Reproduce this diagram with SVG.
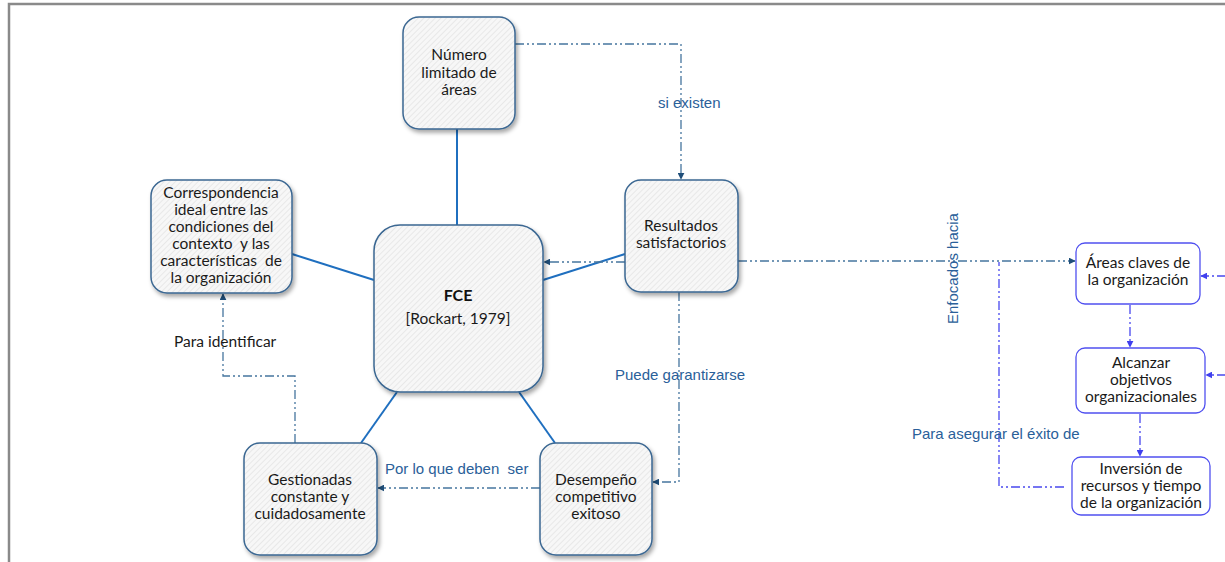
<svg xmlns="http://www.w3.org/2000/svg" width="1225" height="562" viewBox="0 0 1225 562">
  <defs>
    <pattern id="hatch" patternUnits="userSpaceOnUse" width="4" height="4" patternTransform="rotate(45)">
      <rect width="4" height="4" fill="#f7f7f7"/>
      <line x1="0" y1="0" x2="0" y2="4" stroke="#e0e0e0" stroke-width="1.3"/>
    </pattern>
    <filter id="shadow" x="-10%" y="-10%" width="125%" height="125%">
      <feDropShadow dx="2" dy="3" stdDeviation="2" flood-color="#000" flood-opacity="0.35"/>
    </filter>
    <marker id="arrDark" viewBox="0 0 10 10" refX="9" refY="5" markerWidth="7" markerHeight="7" orient="auto-start-reverse" markerUnits="userSpaceOnUse">
      <path d="M0,0 L10,5 L0,10 z" fill="#1f4e79"/>
    </marker>
    <marker id="arrBlue" viewBox="0 0 10 10" refX="9" refY="5" markerWidth="7" markerHeight="7" orient="auto-start-reverse" markerUnits="userSpaceOnUse">
      <path d="M0,0 L10,5 L0,10 z" fill="#4040ee"/>
    </marker>
  </defs>
  <style>
    .frame { fill: none; stroke: #8a8a8a; stroke-width: 2.5; }
    .hnode { fill: url(#hatch); stroke: #3b6792; stroke-width: 1.5; filter: url(#shadow); }
    .bnode { fill: #ffffff; stroke: #5050f0; stroke-width: 1.3; }
    .ntext { font-family: Lato, "Liberation Sans", sans-serif; font-size: 15.5px; fill: #1a1a1a; text-anchor: middle; }
    .ntitle { font-family: Lato, "Liberation Sans", sans-serif; font-size: 16px; font-weight: bold; fill: #111; text-anchor: middle; }
    .label { font-family: "Liberation Sans", Arial, sans-serif; font-size: 15px; fill: #2a6099; }
    .labelDark { font-family: Lato, "Liberation Sans", sans-serif; font-size: 15.5px; fill: #1a1a1a; }
    .solid { fill: none; stroke: #1f6fbf; stroke-width: 2; }
    .dd { fill: none; stroke: #46759e; stroke-width: 1.3; stroke-dasharray: 9 3 2 3 2 3; }
    .ddBlue { fill: none; stroke: #4848ee; stroke-width: 1.3; stroke-dasharray: 9 3 2 3 2 3; }
  </style>

  <rect width="1225" height="562" fill="#ffffff"/>
  <!-- outer frame (top and left edges) -->
  <path class="frame" d="M9,562 L9,4 L1225,4"/>

  <!-- connectors -->
  <g id="connectors">
    <!-- solid spokes around FCE -->
    <line class="solid" x1="457" y1="129" x2="457" y2="225"/>
    <line class="solid" x1="292" y1="254" x2="374" y2="280"/>
    <line class="solid" x1="625" y1="254" x2="543" y2="280"/>
    <line class="solid" x1="397" y1="392" x2="361" y2="443"/>
    <line class="solid" x1="519" y1="392" x2="555" y2="443"/>

    <!-- dash-dot arrows -->
    <path class="dd" d="M515,44 L681,44 L681,179" marker-end="url(#arrDark)"/>
    <path class="dd" d="M625,262 L544,262" marker-end="url(#arrDark)"/>
    <path class="dd" d="M738,261 L1075,261" marker-end="url(#arrDark)"/>
    <path class="dd" d="M679,292 L679,482 L653,482" marker-end="url(#arrDark)"/>
    <path class="dd" d="M540,488 L378,488" marker-end="url(#arrDark)"/>
    <path class="dd" d="M295,443 L295,376 L223,376 L223,294" marker-end="url(#arrDark)"/>

    <!-- blue dash-dot connectors on the right -->
    <path class="ddBlue" d="M1064,487 L999,487 L999,262"/>
    <path class="ddBlue" d="M1130,305 L1130,347" marker-end="url(#arrBlue)"/>
    <path class="ddBlue" d="M1140,414 L1140,456" marker-end="url(#arrBlue)"/>
    <path class="ddBlue" d="M1226,276 L1201,276" marker-end="url(#arrBlue)"/>
    <path class="ddBlue" d="M1226,375 L1206,375" marker-end="url(#arrBlue)"/>

    <!-- connector labels -->
    <text class="label" x="658" y="108">si existen</text>
    <text class="label" transform="translate(958,324) rotate(-90)">Enfocados hacia</text>
    <text class="label" x="615" y="380">Puede garantizarse</text>
    <text class="label" x="912" y="439">Para asegurar el éxito de</text>
    <text class="label" x="385" y="474" xml:space="preserve">Por lo que deben  ser</text>
    <text class="labelDark" x="174" y="347">Para identificar</text>
  </g>

  <g id="node-numero">
    <rect class="hnode" x="403" y="17" width="112" height="112" rx="16"/>
    <text class="ntext" x="459" y="60">Número</text>
    <text class="ntext" x="459" y="78">limitado de</text>
    <text class="ntext" x="459" y="95">áreas</text>
  </g>

  <g id="node-resultados">
    <rect class="hnode" x="625" y="180" width="113" height="112" rx="16"/>
    <text class="ntext" x="681" y="231">Resultados</text>
    <text class="ntext" x="681" y="248">satisfactorios</text>
  </g>

  <g id="node-fce">
    <rect class="hnode" x="374" y="225" width="169" height="167" rx="26"/>
    <text class="ntitle" x="458" y="301">FCE</text>
    <text class="ntext" x="458" y="324">[Rockart, 1979]</text>
  </g>

  <g id="node-correspondencia">
    <rect class="hnode" x="151" y="180" width="141" height="113" rx="16"/>
    <text class="ntext" x="221" y="198">Correspondencia</text>
    <text class="ntext" x="221" y="215">ideal entre las</text>
    <text class="ntext" x="221" y="232">condiciones del</text>
    <text class="ntext" x="221" y="249" xml:space="preserve">contexto  y las</text>
    <text class="ntext" x="221" y="266" xml:space="preserve">características  de</text>
    <text class="ntext" x="221" y="283">la organización</text>
  </g>

  <g id="node-gestionadas">
    <rect class="hnode" x="244" y="443" width="133" height="112" rx="16"/>
    <text class="ntext" x="310" y="485">Gestionadas</text>
    <text class="ntext" x="310" y="502">constante y</text>
    <text class="ntext" x="310" y="519">cuidadosamente</text>
  </g>

  <g id="node-desempeno">
    <rect class="hnode" x="540" y="443" width="112" height="112" rx="16"/>
    <text class="ntext" x="596" y="485">Desempeño</text>
    <text class="ntext" x="596" y="502">competitivo</text>
    <text class="ntext" x="596" y="519">exitoso</text>
  </g>

  <g id="node-areas">
    <rect class="bnode" x="1076" y="243" width="124" height="61" rx="9"/>
    <text class="ntext" x="1138" y="268">Áreas claves de</text>
    <text class="ntext" x="1138" y="285">la organización</text>
  </g>

  <g id="node-alcanzar">
    <rect class="bnode" x="1076" y="348" width="129" height="65" rx="9"/>
    <text class="ntext" x="1141" y="368">Alcanzar</text>
    <text class="ntext" x="1141" y="385">objetivos</text>
    <text class="ntext" x="1141" y="402">organizacionales</text>
  </g>

  <g id="node-inversion">
    <rect class="bnode" x="1072" y="457" width="138" height="58" rx="9"/>
    <text class="ntext" x="1141" y="474">Inversión de</text>
    <text class="ntext" x="1141" y="491">recursos y tiempo</text>
    <text class="ntext" x="1141" y="508">de la organización</text>
  </g>
</svg>
